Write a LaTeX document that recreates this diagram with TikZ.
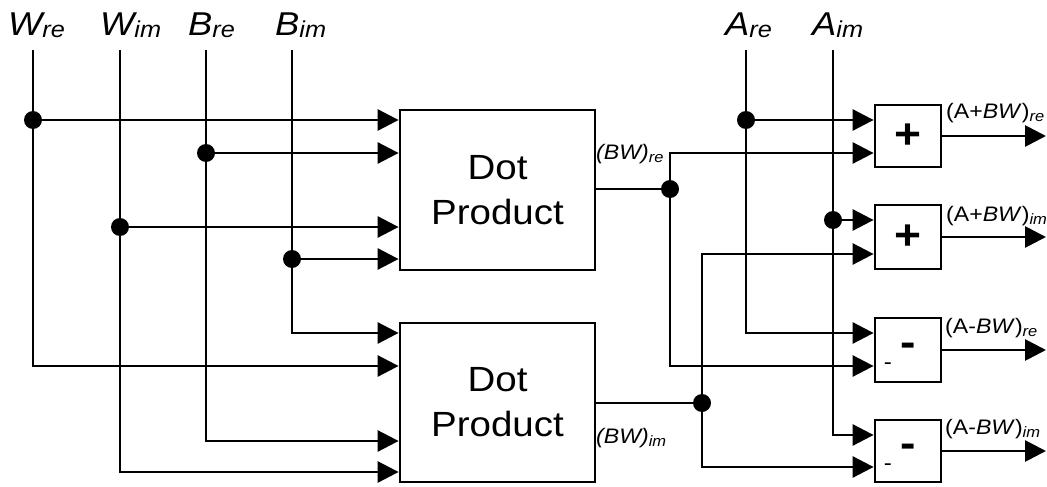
\documentclass[tikz,border=0pt]{standalone}
\usepackage{fontspec}
\setmainfont{Liberation Sans}[FakeStretch=1.1]
\usetikzlibrary{arrows.meta}
\newcommand{\lsub}[3][15]{\raisebox{-#2pt}{\fontsize{#1}{#1}\selectfont\itshape #3}}
\begin{document}
\begin{tikzpicture}[x=1pt,y=-1pt,
  wire/.style={line width=2.8pt},
  arr/.style={wire,-{Triangle[length=21pt,width=21pt]}},
  dot/.style={circle,fill=black,inner sep=0pt,minimum size=18pt},
  dpbox/.style={draw,line width=2.8pt,minimum width=195pt,inner sep=0pt,align=center,
     font=\fontsize{35}{45}\selectfont},
  opbox/.style={draw,line width=2.8pt,minimum width=66pt,inner sep=0pt,
     font=\fontsize{42}{42}\selectfont\bfseries},
  toplab/.style={anchor=base west,inner sep=0pt,font=\fontsize{33}{33}\selectfont\itshape},
  outlab/.style={anchor=base west,inner sep=0pt,font=\fontsize{21}{21}\selectfont}]
\useasboundingbox (0,0) rectangle (1047,487);

% top labels
\node[toplab] (lWre) at (8,36) {W\lsub[23]{2}{re}};
\node[toplab] (lWim) at (100,36) {W\lsub[23]{2}{im}};
\node[toplab] (lBre) at (188,36) {B\lsub[23]{2}{re}};
\node[toplab] (lBim) at (275,36) {B\lsub[23]{2}{im}};
\node[toplab] (lAre) at (725,36) {A\lsub[23]{2}{re}};
\node[toplab] (lAim) at (812,36) {A\lsub[23]{2}{im}};

% line tops
\coordinate (tWre) at (33,50);
\coordinate (tWim) at (120,50);
\coordinate (tBre) at (206,50);
\coordinate (tBim) at (292,50);
\coordinate (tAre) at (746,50);
\coordinate (tAim) at (833,50);

% dot product boxes
\node[dpbox,minimum height=160pt] (dp1) at (497.5,190) {Dot\\Product};
\node[dpbox,minimum height=159pt] (dp2) at (497.5,402.5) {Dot\\Product};

% adder / subtractor boxes
\node[opbox,minimum height=62pt] (p1) at (908,136) {+};
\node[opbox,minimum height=64pt] (p2) at (908,237) {+};
\node[opbox,minimum height=64pt] (m1) at (908,350) {-};
\node[opbox,minimum height=62pt] (m2) at (908,451) {-};
\node[inner sep=0pt,font=\fontsize{22}{22}\selectfont] (m1s) at (888,366) {-};
\node[inner sep=0pt,font=\fontsize{22}{22}\selectfont] (m2s) at (888,467) {-};

% junction dots
\node[dot] (dWre) at (33,120) {};
\node[dot] (dBre) at (206,153) {};
\node[dot] (dWim) at (120,227) {};
\node[dot] (dBim) at (292,259) {};
\node[dot] (dBWre) at (670,189) {};
\node[dot] (dBWim) at (702,403) {};
\node[dot] (dAre) at (746,120) {};
\node[dot] (dAim) at (833,220) {};

% corner coordinates
\coordinate (cWre) at (33,366);
\coordinate (cWim) at (120,472);
\coordinate (cBre) at (206,441);
\coordinate (cBim) at (292,333);
\coordinate (cBWreU) at (670,153);
\coordinate (cBWreD) at (670,366);
\coordinate (cBWimU) at (702,254);
\coordinate (cBWimD) at (702,467);
\coordinate (cAre) at (746,333);
\coordinate (cAim) at (833,435);

% inputs to dot product 1
\draw[arr] (dWre.center) -- (dWre.center -| dp1.west);
\draw[arr] (dBre.center) -- (dBre.center -| dp1.west);
\draw[arr] (dWim.center) -- (dWim.center -| dp1.west);
\draw[arr] (dBim.center) -- (dBim.center -| dp1.west);
% inputs to dot product 2
\draw[arr] (tWre) -- (cWre) -- (cWre -| dp2.west);
\draw[arr] (tWim) -- (cWim) -- (cWim -| dp2.west);
\draw[arr] (tBre) -- (cBre) -- (cBre -| dp2.west);
\draw[arr] (tBim) -- (cBim) -- (cBim -| dp2.west);

% dot product outputs
\draw[wire] (dBWre.center -| dp1.east) -- (dBWre.center);
\draw[wire] (dBWim.center -| dp2.east) -- (dBWim.center);
\draw[arr] (dBWre.center) -- (cBWreU) -- (cBWreU -| p1.west);
\draw[arr] (dBWre.center) -- (cBWreD) -- (cBWreD -| m1.west);
\draw[arr] (dBWim.center) -- (cBWimU) -- (cBWimU -| p2.west);
\draw[arr] (dBWim.center) -- (cBWimD) -- (cBWimD -| m2.west);

% A inputs
\draw[arr] (tAre) -- (cAre) -- (cAre -| m1.west);
\draw[arr] (tAim) -- (cAim) -- (cAim -| m2.west);
\draw[arr] (dAre.center) -- (dAre.center -| p1.west);
\draw[arr] (dAim.center) -- (dAim.center -| p2.west);

% outputs
\coordinate (o1) at (1046,136);
\coordinate (o2) at (1046,237);
\coordinate (o3) at (1046,350);
\coordinate (o4) at (1046,451);
\draw[arr] (p1.east) -- (o1);
\draw[arr] (p2.east) -- (o2);
\draw[arr] (m1.east) -- (o3);
\draw[arr] (m2.east) -- (o4);

% labels
\node[outlab] (lBWre) at (596,159) {\textit{(BW)}\lsub{3}{re}};
\node[outlab] (lBWim) at (596,443) {\textit{(BW)}\lsub{3}{im}};
\node[outlab] (lo1) at (946,118) {(A+\textit{BW})\lsub{3}{re}};
\node[outlab] (lo2) at (946,221) {(A+\textit{BW})\lsub{3}{im}};
\node[outlab] (lo3) at (945,333) {(A-\textit{BW})\lsub{3}{re}};
\node[outlab] (lo4) at (945,434) {(A-\textit{BW})\lsub{3}{im}};
\end{tikzpicture}
\end{document}
